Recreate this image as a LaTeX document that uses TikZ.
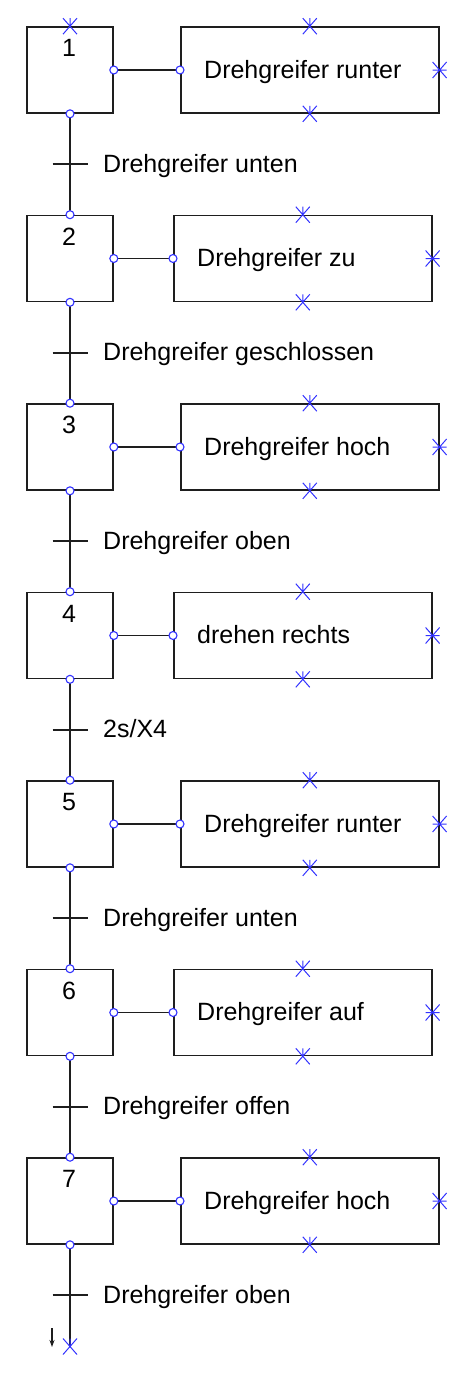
\documentclass[tikz,border=0pt]{standalone}
\usepackage{fontspec}
\setmainfont{Liberation Sans}
\usetikzlibrary{arrows.meta}
\definecolor{xblue}{RGB}{50,50,255}
\definecolor{ink}{RGB}{30,30,30}
\tikzset{
  wire/.style={draw=ink, line width=1.6pt},
  stepbox/.style={wire, minimum width=86pt, minimum height=86pt, inner sep=0pt},
  actbox/.style={wire, minimum width=258pt, minimum height=86pt, inner sep=0pt},
  port/.style={circle, draw=xblue, line width=1.1pt, fill=white, inner sep=0pt, minimum size=8pt},
  pinv/.pic={\draw[xblue, line width=1pt] (-7,-8) -- (7,8) (-7,8) -- (7,-8) (0,0) -- (0,-8);},
  pinh/.pic={\draw[xblue, line width=1pt] (-7,-8) -- (7,8) (-7,8) -- (7,-8) (-7,0) -- (7,0);}
}
\begin{document}
\begin{tikzpicture}[x=1pt, y=-1pt, font=\fontsize{25}{29}\selectfont]
  \useasboundingbox (0,0) rectangle (474,1374);
  % steps and actions: step / action / left edge of action box
  \foreach \i/\act/\ax in {
    1/{Drehgreifer runter}/180,
    2/{Drehgreifer zu}/173,
    3/{Drehgreifer hoch}/180,
    4/{drehen rechts}/173,
    5/{Drehgreifer runter}/180,
    6/{Drehgreifer auf}/173,
    7/{Drehgreifer hoch}/180} {
    \pgfmathsetmacro\yc{70+188.5*(\i-1)}
    \node[stepbox] (s\i) at (70,\yc) {};
    \node (n\i) at (69,\yc-22) {\i};
    \node[actbox, anchor=west] (a\i) at (\ax,\yc) {};
    \node[anchor=base west, inner sep=0pt] (l\i) at (\ax+24,\yc+8) {\act};
    \draw[wire] (s\i.east) -- (a\i.west);
    \pic at (a\i.north) {pinv};
    \pic at (a\i.south) {pinv};
    \pic at (a\i.east) {pinh};
  }
  % transitions: step before / condition
  \foreach \i/\trans in {
    1/{Drehgreifer unten},
    2/{Drehgreifer geschlossen},
    3/{Drehgreifer oben},
    4/{2s/X4},
    5/{Drehgreifer unten},
    6/{Drehgreifer offen},
    7/{Drehgreifer oben}} {
    \pgfmathsetmacro\yt{70+188.5*(\i-1)+94.25}
    \coordinate (t\i) at (70,\yt);
    \draw[wire] ([xshift=-17.5pt]t\i) -- ([xshift=17.5pt]t\i);
    \node[anchor=base west, inner sep=0pt] (c\i) at (103,\yt+8) {\trans};
  }
  % chain
  \coordinate (end) at (70,1346.5);
  \foreach \i/\j in {1/2,2/3,3/4,4/5,5/6,6/7} \draw[wire] (s\i.south) -- (s\j.north);
  \draw[wire] (s7.south) -- (end);
  \pic at (s1.north) {pinv};
  \pic at (end) {pinv};
  % ports
  \foreach \i in {1,...,7} {
    \node[port] (pb\i) at (s\i.south) {};
    \node[port] (pe\i) at (s\i.east) {};
    \node[port] (pa\i) at (a\i.west) {};
  }
  \foreach \i in {2,...,7} \node[port] (pt\i) at (s\i.north) {};
  % flow direction
  \coordinate (h1) at (52,1328);
  \coordinate (h2) at (52,1347);
  \draw[ink, line width=1.1pt, -{Stealth[length=7pt, width=5pt]}] (h1) -- (h2);
\end{tikzpicture}
\end{document}
